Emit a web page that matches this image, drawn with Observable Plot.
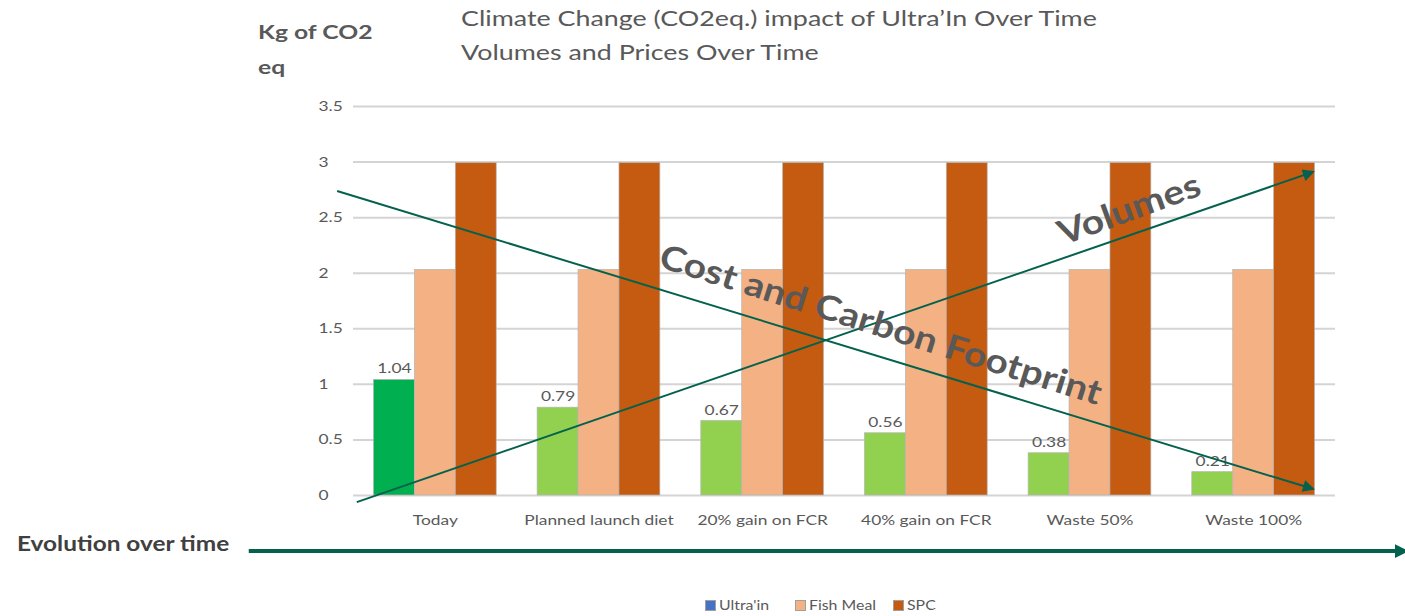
<!DOCTYPE html>
<html>
<head>
<meta charset="utf-8">
<script src="https://cdn.jsdelivr.net/npm/d3@7"></script>
<script src="https://cdn.jsdelivr.net/npm/@observablehq/plot@0.6"></script>
<style>
  html, body { margin: 0; padding: 0; background: #fff; }
  #wrap { position: relative; width: 1405px; height: 616px; overflow: hidden; font-family: Lato, "Open Sans", sans-serif; color: #595959; }
  #wrap svg { position: absolute; left: 0; top: 0; }
  .abs { position: absolute; white-space: nowrap; transform-origin: 0 0; }
  #ylab { left: 258px; top: 14px; font-size: 19px; font-weight: 700; line-height: 35px; transform: scaleX(1.3); }
  #title { left: 461px; top: 1px; font-size: 22px; line-height: 34px; transform: scaleX(1.22); }
  #evo { left: 17px; top: 531px; font-size: 20px; font-weight: 700; color: #404040; transform: scaleX(1.22); }
  .leg { position: absolute; top: 597px; font-size: 13px; white-space: nowrap; }
  .leg span.sw { display: inline-block; width: 9px; height: 9px; border: 1px solid #a0a0a0; margin-right: 3px; vertical-align: -1px; }
  .leg span.lt { display: inline-block; transform: scaleX(1.22); transform-origin: 0 0; }
</style>
</head>
<body>
<div id="wrap">
  <div class="abs" id="ylab">Kg of CO2<br>eq</div>
  <div class="abs" id="title">Climate Change (CO2eq.) impact of Ultra’In Over Time<br>Volumes and Prices Over Time</div>
  <div class="abs" id="evo">Evolution over time</div>
</div>
<script>
// ---- data ----
const categories = ["Today", "Planned launch diet", "20% gain on FCR", "40% gain on FCR", "Waste 50%", "Waste 100%"];
const seriesNames = ["Ultra'in", "Fish Meal", "SPC"];
const ultrain = [1.04, 0.79, 0.67, 0.56, 0.38, 0.21];
const fishMeal = [2.03, 2.03, 2.03, 2.03, 2.03, 2.03];
const spc = [2.99, 2.99, 2.99, 2.99, 2.99, 2.99];
const yTicks = [0, 0.5, 1, 1.5, 2, 2.5, 3, 3.5];

// annotation arrows (in data units: category index, kg CO2 eq)
const trendArrows = [
  {name: "Cost and Carbon Footprint", x1: -0.6, y1: 2.74, x2: 5.36, y2: 0.06},
  {name: "Volumes", x1: -0.48, y1: -0.06, x2: 5.36, y2: 2.91}
];
const trendLabels = [
  {text: "Cost and Carbon Footprint", x: 2.72, y: 1.53, rotate: 17.5},
  {text: "Volumes", x: 4.24, y: 2.57, rotate: -20}
];
const timeArrow = [{x1: -1.14, x2: 5.93, y: -0.5}];

// ---- styling ----
const seriesColors = ["#4472c4", "#f4b183", "#c55a11"];
const ultraFill = ["#00b050", "#92d050", "#92d050", "#92d050", "#92d050", "#92d050"];
const legendLeft = [705, 795, 893];
const arrowColor = "#04614d";
const barW = 0.25;

const values = [ultrain, fishMeal, spc];
const rows = [];
categories.forEach((c, i) => {
  values.forEach((vals, s) => {
    const x1 = i - 1.5 * barW + s * barW;
    rows.push({category: c, series: seriesNames[s], value: vals[i], x1, x2: x1 + barW, xc: x1 + barW / 2,
      fill: s === 0 ? ultraFill[i] : seriesColors[s]});
  });
});
const ultraRows = rows.filter(r => r.series === "Ultra'in");

function filledHead(len, wid) {
  return (color) => {
    const m = d3.create("svg:marker")
      .attr("viewBox", "-5 -5 10 10")
      .attr("markerWidth", len)
      .attr("markerHeight", wid)
      .attr("orient", "auto")
      .attr("refX", 3)
      .attr("fill", color)
      .attr("stroke", "none");
    m.append("path").attr("d", "M-5,-5L5,0L-5,5Z");
    return m.node();
  };
}

const chart = Plot.plot({
  width: 1405,
  height: 616,
  marginLeft: 353,
  marginRight: 70,
  marginTop: 106,
  marginBottom: 121,
  x: {domain: [-0.5, 5.5], axis: null},
  y: {domain: [0, 3.5], axis: null},
  color: {type: "identity"},
  style: {fontFamily: "Lato, 'Open Sans', sans-serif", color: "#595959", background: "transparent", overflow: "visible"},
  marks: [
    Plot.ruleY(yTicks, {stroke: "#d4d4d4", strokeWidth: 2}),
    Plot.text(yTicks, {y: d => d, frameAnchor: "left", text: d => String(d), textAnchor: "start", dx: -35, fontSize: 14, fill: "#595959"}),
    Plot.axisX({ticks: d3.range(categories.length), tickFormat: i => categories[i], tickSize: 0, tickPadding: 20, fontSize: 14, label: null}),
    Plot.rectY(rows, {x1: "x1", x2: "x2", y: "value", fill: "fill", stroke: "#b5b5b5", strokeWidth: 0.7}),
    Plot.text(ultraRows, {x: "xc", y: "value", text: d => d.value.toFixed(2), dy: -11, fontSize: 14, fill: "#595959"}),
    Plot.link(trendArrows, {x1: "x1", y1: "y1", x2: "x2", y2: "y2", stroke: arrowColor, strokeWidth: 2, markerEnd: filledHead(8, 6)}),
    Plot.link(timeArrow, {x1: "x1", y1: "y", x2: "x2", y2: "y", stroke: arrowColor, strokeWidth: 4, markerEnd: filledHead(3.5, 4.5)}),
    Plot.text(trendLabels, {x: "x", y: "y", text: "text", rotate: "rotate", fontSize: 34, fontWeight: 700, fill: "#595959"})
  ]
});
const wrap = document.getElementById("wrap");
wrap.insertBefore(chart, wrap.firstChild);

// widen glyphs horizontally (reference text is set in a wider face)
chart.querySelectorAll("text").forEach(t => {
  const holder = t.closest("[font-size]");
  const fs = holder ? parseFloat(holder.getAttribute("font-size")) : 10;
  const k = fs >= 30 ? 1.15 : 1.24;
  const x = +t.getAttribute("x") || 0, y = +t.getAttribute("y") || 0;
  const tr = t.getAttribute("transform") || "";
  t.setAttribute("transform", `${tr} translate(${x},${y}) scale(${k},1) translate(${-x},${-y})`);
});

// legend
seriesNames.forEach((n, s) => {
  const item = d3.select("#wrap").append("div").attr("class", "leg").style("left", legendLeft[s] + "px");
  item.append("span").attr("class", "sw").style("background", seriesColors[s]);
  item.append("span").attr("class", "lt").text(n);
});
</script>
</body>
</html>
